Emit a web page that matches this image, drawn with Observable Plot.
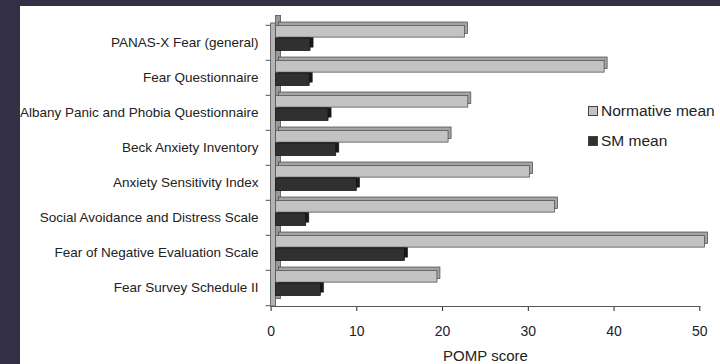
<!DOCTYPE html>
<html>
<head>
<meta charset="utf-8">
<script src="https://cdn.jsdelivr.net/npm/d3@7"></script>
<script src="https://cdn.jsdelivr.net/npm/@observablehq/plot@0.6"></script>
<style>
  html, body { margin: 0; padding: 0; }
  body { background: #332f45; width: 720px; height: 364px; overflow: hidden; position: relative; font-family: "Liberation Sans", Arial, sans-serif; }
  #wrap { position: absolute; left: 20px; top: 6px; width: 700px; height: 358px; background: #ffffff; }
  #wrap svg { display: block; }
  .legend { position: absolute; left: 568px; top: 90px; color: #222; font-size: 15.5px; }
  .legend .item { display: flex; align-items: center; height: 30px; }
  .legend .sw { width: 8px; height: 8px; margin-right: 3px; border: 1px solid #444; }
</style>
</head>
<body>
<div id="wrap"></div>
<script>
const categories = [
  "PANAS-X Fear (general)",
  "Fear Questionnaire",
  "Albany Panic and Phobia Questionnaire",
  "Beck Anxiety Inventory",
  "Anxiety Sensitivity Index",
  "Social Avoidance and Distress Scale",
  "Fear of Negative Evaluation Scale",
  "Fear Survey Schedule II"
];
const seriesNames = ["Normative mean", "SM mean"];
const normativeMean = [22.6, 38.9, 23.0, 20.7, 30.2, 33.1, 50.6, 19.4];
const smMean = [4.6, 4.5, 6.7, 7.6, 10.0, 4.1, 15.6, 5.8];
const xTicks = [0, 10, 20, 30, 40, 50];
const xLabel = "POMP score";

const colors = {
  "Normative mean": {front: "#c3c3c3", back: "#a4a4a4"},
  "SM mean": {front: "#303030", back: "#1a1a1a"}
};

const rows = categories.flatMap((c, i) => [
  {category: c, series: seriesNames[0], value: normativeMean[i]},
  {category: c, series: seriesNames[1], value: smMean[i]}
]);
const light = rows.filter(d => d.series === seriesNames[0]);
const dark = rows.filter(d => d.series === seriesNames[1]);

const W = 700, H = 358, mT = 17, mB = 58, mL = 250.6, mR = 20.7;
const bw = (H - mT - mB) / categories.length;
const depthX = 3, depthY = -3.5;

const lightInset = {insetTop: 0.5, insetBottom: bw - 12.5, insetLeft: 5};
const darkInset = {insetTop: 13, insetBottom: 9.4, insetLeft: 5};

const chart = Plot.plot({
  width: W,
  height: H,
  marginTop: mT,
  marginBottom: mB,
  marginLeft: mL,
  marginRight: mR,
  style: {fontFamily: "Liberation Sans, Arial, sans-serif", fontSize: "13.5px", color: "#222", background: "transparent"},
  x: {domain: [0, 50], ticks: xTicks, tickSize: 5, tickPadding: 15, label: xLabel, labelAnchor: "center", labelOffset: 54, labelArrow: false},
  y: {domain: categories, padding: 0, tickSize: 0, tickPadding: 12.5, label: null},
  marks: [
    // side wall
    Plot.rect([0], {x1: d => 0, x2: d => 0, insetRight: -5, dx: depthX + 2, dy: depthY - 4, fill: "#9a9a9a", stroke: "#555", strokeWidth: 0.8}),
    Plot.rect([0], {x1: d => 0, x2: d => 0, insetRight: -5, fill: "#b4b4b4", stroke: "#555", strokeWidth: 0.8}),
    // floor line
    Plot.frame({anchor: "bottom", stroke: "#555"}),
    // category boundary ticks
    Plot.ruleY(categories, {y: d => d, x1: d => 0, x2: d => 0, insetLeft: -5, dy: -bw / 2, stroke: "#555"}),
    Plot.ruleY(categories.slice(-1), {y: d => d, x1: d => 0, x2: d => 0, insetLeft: -5, dy: bw / 2, stroke: "#555"}),
    // dark bars back (depth)
    Plot.rect(dark, {y: "category", x1: d => 0, x2: "value", ...darkInset, dx: depthX, dy: depthY, fill: colors["SM mean"].back, stroke: "#111", strokeWidth: 0.7}),
    // light bars back (depth)
    Plot.rect(light, {y: "category", x1: d => 0, x2: "value", ...lightInset, dx: depthX, dy: depthY, fill: colors["Normative mean"].back, stroke: "#444", strokeWidth: 0.7}),
    // light bars front
    Plot.rect(light, {y: "category", x1: d => 0, x2: "value", ...lightInset, fill: colors["Normative mean"].front, stroke: "#555", strokeWidth: 0.8}),
    // dark bars front
    Plot.rect(dark, {y: "category", x1: d => 0, x2: "value", ...darkInset, fill: colors["SM mean"].front, stroke: "#111", strokeWidth: 0.7})
  ]
});
document.getElementById("wrap").appendChild(chart);
d3.select(chart).selectAll('[aria-label="x-axis tick label"]').attr("font-size", "14px");
d3.select(chart).selectAll('[aria-label="x-axis label"]').attr("font-size", "15px");

const legend = document.createElement("div");
legend.className = "legend";
seriesNames.forEach(s => {
  const item = document.createElement("div");
  item.className = "item";
  const sw = document.createElement("span");
  sw.className = "sw";
  sw.style.background = colors[s].front;
  const t = document.createElement("span");
  t.textContent = s;
  item.appendChild(sw);
  item.appendChild(t);
  legend.appendChild(item);
});
document.getElementById("wrap").appendChild(legend);
</script>
</body>
</html>
